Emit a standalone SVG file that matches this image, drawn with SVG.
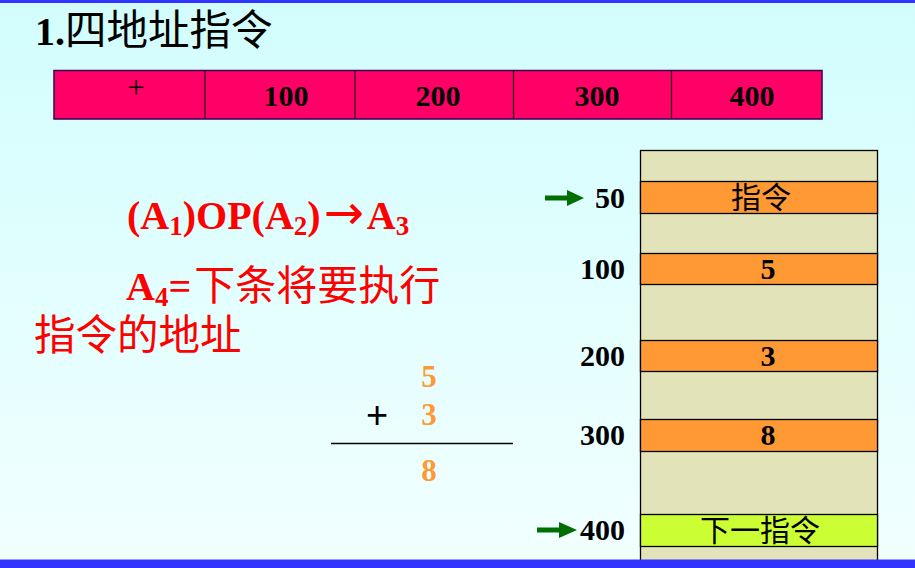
<svg xmlns="http://www.w3.org/2000/svg" width="915" height="568" viewBox="0 0 915 568">
<defs>
<linearGradient id="bg" x1="0" y1="0" x2="0" y2="1">
<stop offset="0" stop-color="#d2fdfd"/>
<stop offset="1" stop-color="#f2ffff"/>
</linearGradient>
<style>
.num{font-family:"Liberation Serif","Times New Roman",serif;font-weight:bold;}
.cjk{font-family:"Noto Sans CJK SC","Noto Sans CJK JP",sans-serif;}
.cell{stroke:#000;stroke-width:1.3;}
.beige{fill:#e2e3b9;}
.orange{fill:#ff9933;}
.arrow{fill:#006e00;}
</style>
</defs>
<rect x="0" y="0" width="915" height="568" fill="url(#bg)"/>
<rect x="0" y="0" width="915" height="3" fill="#3333ff"/>

<g id="title">
<text x="35" y="45" font-size="40" fill="#000"><tspan class="num">1.</tspan><tspan class="cjk" font-size="41.5">四地址指令</tspan></text>
</g>

<g id="format">
<rect x="54" y="70.5" width="768" height="48.5" fill="#ff0066" stroke="#330055" stroke-width="1.5"/>
<g stroke="#220022" stroke-width="1.2">
<line x1="205" y1="71" x2="205" y2="118"/>
<line x1="355" y1="71" x2="355" y2="118"/>
<line x1="513.5" y1="71" x2="513.5" y2="118"/>
<line x1="671.5" y1="71" x2="671.5" y2="118"/>
</g>
<text x="136" y="98" font-size="31" text-anchor="middle" font-family="Liberation Serif, serif" fill="#000">+</text>
<g class="num" font-size="30" text-anchor="middle" fill="#000">
<text x="286" y="106">100</text>
<text x="438" y="106">200</text>
<text x="597" y="106">300</text>
<text x="752" y="106">400</text>
</g>
</g>

<g id="formula" fill="#ff0000">
<text class="num" x="127" y="229" font-size="40">(A<tspan font-size="27" dy="6">1</tspan><tspan dy="-6">)OP(A</tspan><tspan font-size="27" dy="6">2</tspan><tspan dy="-6">)</tspan><tspan font-family="DejaVu Sans, sans-serif" font-weight="normal" font-size="48" dx="3">→</tspan><tspan dx="3">A</tspan><tspan font-size="27" dy="6">3</tspan></text>
<text x="126" y="300" font-size="40"><tspan class="num">A</tspan><tspan class="num" font-size="27" dy="6">4</tspan><tspan class="num" dy="-6">=</tspan><tspan class="cjk" font-size="41" dx="3">下条将要执行</tspan></text>
<text class="cjk" x="34" y="350" font-size="41.5">指令的地址</text>
</g>

<g id="sum">
<text class="num" x="429" y="387" font-size="31" fill="#ff9933" text-anchor="middle">5</text>
<text x="377" y="428" font-size="38" font-family="Liberation Sans, sans-serif" fill="#000" text-anchor="middle">+</text>
<text class="num" x="429" y="425" font-size="31" fill="#ff9933" text-anchor="middle">3</text>
<line x1="331" y1="443.5" x2="513" y2="443.5" stroke="#000" stroke-width="1.3"/>
<text class="num" x="429" y="481" font-size="31" fill="#ff9933" text-anchor="middle">8</text>
</g>

<g id="memory">
<rect class="cell beige" x="640.5" y="150.5" width="237" height="412"/>
<rect class="cell orange" x="640.5" y="181.5" width="237" height="32"/>
<rect class="cell orange" x="640.5" y="253.5" width="237" height="31"/>
<rect class="cell orange" x="640.5" y="340.5" width="237" height="31"/>
<rect class="cell orange" x="640.5" y="419.5" width="237" height="32"/>
<rect class="cell" x="640.5" y="514.5" width="237" height="32" fill="#ccff33"/>
<text class="cjk" x="761" y="208" font-size="30" text-anchor="middle" fill="#000">指令</text>
<g class="num" font-size="30" text-anchor="middle" fill="#000">
<text x="768" y="279">5</text>
<text x="768" y="366">3</text>
<text x="768" y="445">8</text>
</g>
<text class="cjk" x="760" y="541" font-size="30" text-anchor="middle" fill="#000">下一指令</text>
</g>

<g id="addresses" class="num" font-size="30" text-anchor="end" fill="#000">
<text x="625" y="208">50</text>
<text x="625" y="279">100</text>
<text x="625" y="366">200</text>
<text x="625" y="445">300</text>
<text x="625" y="540">400</text>
</g>

<g id="connectors">
<polygon class="arrow" points="545,195.5 567,195.5 567,190 584,198 567,206 567,200.5 545,200.5"/>
<polygon class="arrow" points="537,527.5 559,527.5 559,522 577,530 559,538 559,532.5 537,532.5"/>
</g>

<rect x="0" y="559.5" width="915" height="8.5" fill="#3333ff"/>
</svg>
